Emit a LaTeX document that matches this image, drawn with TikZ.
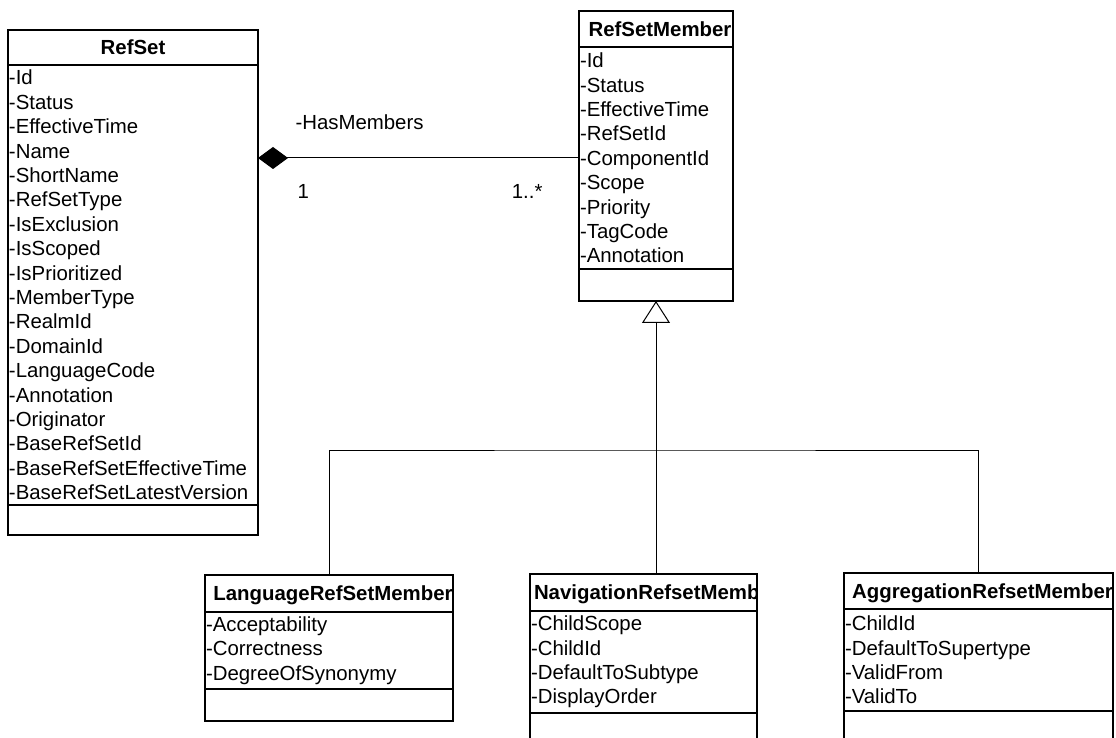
\documentclass[tikz,border=0pt]{standalone}
\usepackage{fontspec}
\setmainfont{Liberation Sans}
\usepackage{tikz}
\usetikzlibrary{positioning, arrows.meta}

\begin{document}
\begin{tikzpicture}[x=0.5pt, y=-0.5pt,
    every node/.style={font=\fontsize{10.2}{12.2}\selectfont},
    clsname/.style={draw, line width=0.9pt, outer sep=0pt, inner sep=0pt, font=\fontsize{10.2}{12.2}\selectfont\bfseries},
    cutname/.style={path picture={\node [anchor=base west, inner sep=0pt, font=\fontsize{10.2}{12.2}\selectfont\bfseries] at ([xshift=2pt, yshift=-3.6pt]path picture bounding box.west) {#1};}},
    attrs/.style={draw, line width=0.9pt, outer sep=0pt, inner xsep=0.5pt, inner ysep=0pt, align=left},
    ops/.style={draw, line width=0.9pt, outer sep=0pt, inner sep=0pt},
    line/.style={draw, line width=0.5pt},
    mult/.style={inner sep=0pt}]

    \clip (0,0) rectangle (1116,738);

    % RefSet
    \node [clsname, anchor=north west, minimum width=125pt, minimum height=17.5pt] (refset) at (8,30) {RefSet};
    \node [attrs, below=0pt of refset, text width=124pt, minimum height=220pt] (refsetA) {-Id\\-Status\\-EffectiveTime\\-Name\\-ShortName\\-RefSetType\\-IsExclusion\\-IsScoped\\-IsPrioritized\\-MemberType\\-RealmId\\-DomainId\\-LanguageCode\\-Annotation\\-Originator\\-BaseRefSetId\\-BaseRefSetEffectiveTime\\-BaseRefSetLatestVersion};
    \node [ops, below=0pt of refsetA, minimum width=125pt, minimum height=15pt] (refsetO) {};

    % RefSetMember
    \node [clsname, cutname={RefSetMember}, anchor=north west, minimum width=77pt, minimum height=18pt] (member) at (579,11) {};
    \node [attrs, below=0pt of member, text width=76pt, minimum height=111pt] (memberA) {-Id\\-Status\\-EffectiveTime\\-RefSetId\\-ComponentId\\-Scope\\-Priority\\-TagCode\\-Annotation};
    \node [ops, below=0pt of memberA, minimum width=77pt, minimum height=16pt] (memberO) {};

    % Subtypes
    \node [clsname, cutname={LanguageRefSetMember}, anchor=north west, minimum width=124pt, minimum height=18.5pt] (lang) at (205,575) {};
    \node [attrs, below=0pt of lang, text width=123pt, minimum height=38.5pt] (langA) {-Acceptability\\-Correctness\\-DegreeOfSynonymy};
    \node [ops, below=0pt of langA, minimum width=124pt, minimum height=16pt] (langO) {};

    \node [clsname, cutname={NavigationRefsetMember}, anchor=north west, minimum width=113.5pt, minimum height=18.5pt] (nav) at (530,574) {};
    \node [attrs, below=0pt of nav, text width=112.5pt, minimum height=51pt] (navA) {-ChildScope\\-ChildId\\-DefaultToSubtype\\-DisplayOrder};
    \node [ops, below=0pt of navA, minimum width=113.5pt, minimum height=16pt] (navO) {};

    \node [clsname, cutname={AggregationRefsetMember}, anchor=north west, minimum width=134.5pt, minimum height=18pt] (aggr) at (844,573) {};
    \node [attrs, below=0pt of aggr, text width=133.5pt, minimum height=51pt] (aggrA) {-ChildId\\-DefaultToSupertype\\-ValidFrom\\-ValidTo};
    \node [ops, below=0pt of aggrA, minimum width=134.5pt, minimum height=16pt] (aggrO) {};

    % Composition
    \path [line, {Diamond[length=15pt, width=11pt]}-] (refsetA.east |- memberA.west) -- (memberA.west)
        node [mult, pos=0, anchor=base west, xshift=18.5pt, yshift=14pt] {-HasMembers}
        node [mult, pos=0, anchor=base west, xshift=19.5pt, yshift=-20.5pt] {1}
        node [mult, pos=1, anchor=base east, xshift=-18pt, yshift=-20.5pt] {1..*};

    % Generalization
    \coordinate (fork) at (656,450);
    \path [line, {Triangle[open, length=11pt, width=14pt]}-] (memberO.south) -- (fork);
    \path [line] (lang.north) |- (fork) -| (aggr.north);
    \path [line] (fork) -- (nav.north -| fork);

\end{tikzpicture}
\end{document}
